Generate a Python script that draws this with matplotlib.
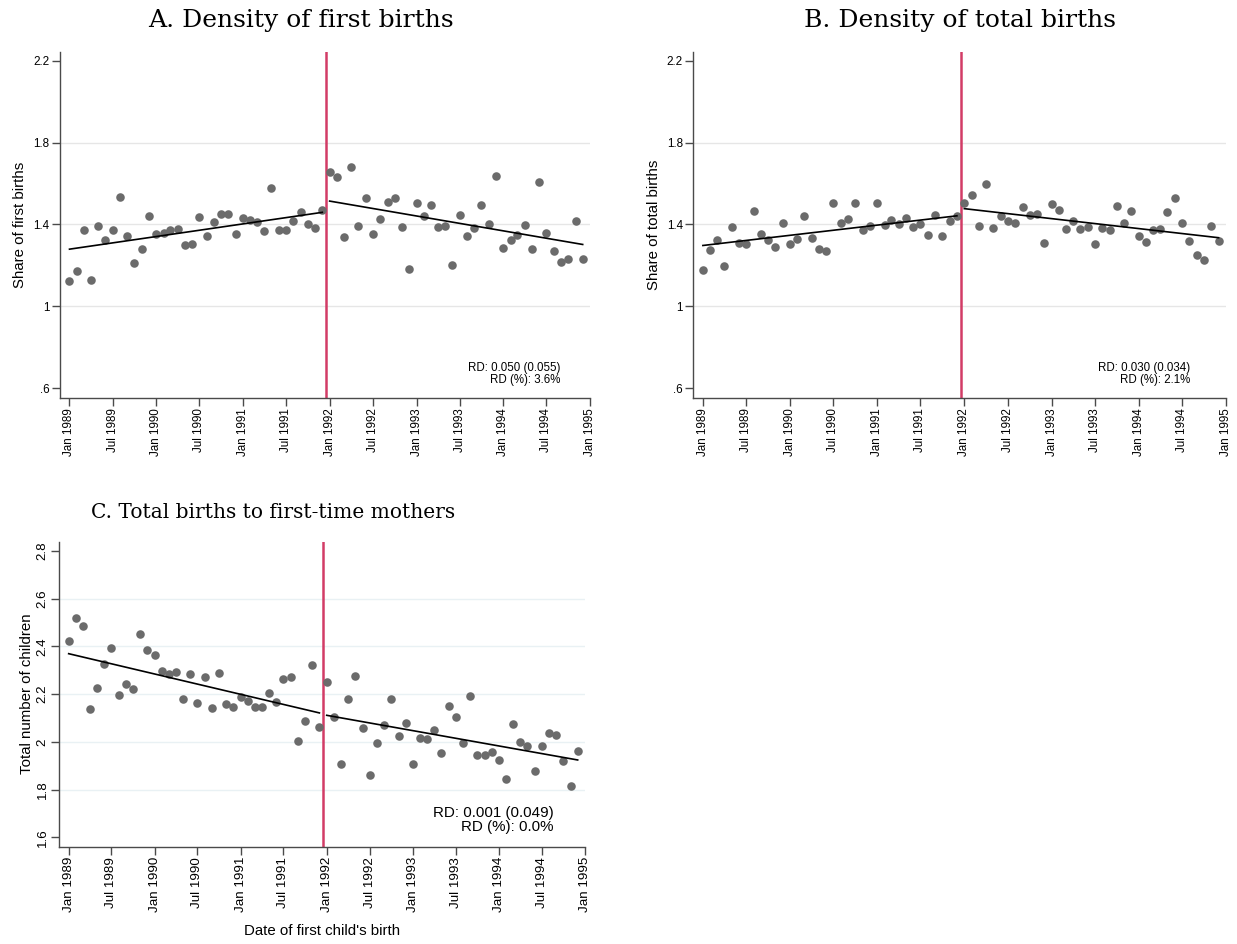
import numpy as np
import pandas as pd
import matplotlib
matplotlib.use("Agg")
import matplotlib.pyplot as plt

plt.rcParams["font.family"] = ["Liberation Sans", "DejaVu Sans"]

# monthly bins, Jan 1989 - Dec 1994
dates = pd.date_range("1989-01-01", periods=72, freq="MS")
cutoff = pd.Timestamp("1991-12-16")
tick_dates = pd.date_range("1989-01-01", "1995-01-01", freq="6MS")
tick_labels = [d.strftime("%b %Y") for d in tick_dates]

share_first = [
    1.124, 1.171, 1.374, 1.129, 1.393, 1.322, 1.371, 1.536, 1.344, 1.212,
    1.282, 1.439, 1.351, 1.358, 1.372, 1.380, 1.300, 1.302, 1.438, 1.341,
    1.411, 1.449, 1.449, 1.353, 1.431, 1.424, 1.413, 1.367, 1.580, 1.374,
    1.371, 1.415, 1.459, 1.403, 1.382, 1.472,
    1.656, 1.630, 1.340, 1.681, 1.393, 1.527, 1.351, 1.426, 1.511, 1.531,
    1.389, 1.184, 1.503, 1.442, 1.493, 1.387, 1.393, 1.201, 1.444, 1.341,
    1.384, 1.496, 1.402, 1.638, 1.284, 1.323, 1.346, 1.395, 1.281, 1.607,
    1.358, 1.268, 1.217, 1.232, 1.416, 1.232,
]
share_total = [
    1.178, 1.273, 1.322, 1.198, 1.389, 1.310, 1.302, 1.467, 1.351, 1.323,
    1.292, 1.408, 1.302, 1.328, 1.439, 1.335, 1.282, 1.268, 1.506, 1.405,
    1.428, 1.504, 1.372, 1.392, 1.504, 1.398, 1.421, 1.402, 1.433, 1.387,
    1.400, 1.349, 1.444, 1.341, 1.418, 1.442,
    1.504, 1.544, 1.393, 1.598, 1.384, 1.441, 1.416, 1.405, 1.487, 1.446,
    1.452, 1.309, 1.498, 1.469, 1.380, 1.415, 1.380, 1.389, 1.302, 1.382,
    1.374, 1.488, 1.407, 1.465, 1.341, 1.313, 1.371, 1.380, 1.460, 1.531,
    1.405, 1.318, 1.250, 1.227, 1.393, 1.318,
]
n_children = [
    2.424, 2.518, 2.484, 2.139, 2.224, 2.324, 2.394, 2.196, 2.243, 2.220,
    2.451, 2.385, 2.362, 2.298, 2.286, 2.293, 2.180, 2.284, 2.161, 2.272,
    2.140, 2.288, 2.157, 2.147, 2.186, 2.171, 2.144, 2.147, 2.206, 2.168,
    2.264, 2.271, 2.005, 2.086, 2.323, 2.063,
    2.250, 2.102, 1.906, 2.179, 2.274, 2.059, 1.863, 1.997, 2.069, 2.178,
    2.026, 2.079, 1.909, 2.016, 2.012, 2.051, 1.955, 2.148, 2.102, 1.995,
    2.193, 1.945, 1.946, 1.959, 1.924, 1.846, 2.075, 2.001, 1.984, 1.877,
    1.984, 2.037, 2.027, 1.920, 1.817, 1.963,
]

# linear fits on each side of the cutoff: (value at first bin, value at last bin)
fit_first = [(1.279, 1.459), (1.514, 1.302)]
fit_total = [(1.297, 1.442), (1.477, 1.335)]
fit_children = [(2.369, 2.121), (2.111, 1.924)]

rd_first = ("RD: 0.050 (0.055)", "RD (%): 3.6%")
rd_total = ("RD: 0.030 (0.034)", "RD (%): 2.1%")
rd_children = ("RD: 0.001 (0.049)", "RD (%): 0.0%")

DOT = "#6b6b6b"
RED = "#d23c66"
AXC = "#4a4a4a"


def rd_panel(ax, y, fits, rd, ylim, yticks, ylabels, grid_col, tick_fs, rd_fs, lab_fs,
             ylabel, rd_pos, lab_pad, rot_y=False):
    ax.scatter(dates, y, s=38, color=DOT, linewidths=0, zorder=3)
    left, right = dates[:36], dates[36:]
    ax.plot([left[0], left[-1]], fits[0], color="black", lw=1.2, zorder=4)
    ax.plot([right[0], right[-1]], fits[1], color="black", lw=1.2, zorder=4)
    ax.axvline(cutoff, color=RED, lw=1.8, zorder=2)
    for t in yticks[1:-1]:
        ax.axhline(t, color=grid_col, lw=1.0, zorder=1)
    ax.set_xlim(pd.Timestamp("1988-11-22"), pd.Timestamp("1995-01-01"))
    ax.set_ylim(*ylim)
    ax.set_xticks(tick_dates)
    ax.set_xticklabels(tick_labels, rotation=90, fontsize=tick_fs)
    ax.set_yticks(yticks)
    if rot_y:
        ax.set_yticklabels(ylabels, rotation=90, va="center", fontsize=tick_fs)
    else:
        ax.set_yticklabels(ylabels, fontsize=tick_fs)
    ax.set_ylabel(ylabel, fontsize=lab_fs, labelpad=lab_pad)
    for s in ("top", "right"):
        ax.spines[s].set_visible(False)
    for s in ("left", "bottom"):
        ax.spines[s].set_color(AXC)
        ax.spines[s].set_linewidth(1.0)
    ax.tick_params(length=5.5, width=1.0, color=AXC, pad=2)
    ax.text(rd_pos[0], rd_pos[1], rd[0] + "\n" + rd[1], transform=ax.transAxes,
            ha="right", va="center", multialignment="right",
            fontsize=rd_fs, linespacing=1.0)


fig = plt.figure(figsize=(12.37, 9.44), dpi=100)
ax_a = fig.add_axes([0.0485, 0.5787, 0.4285, 0.3665])
ax_b = fig.add_axes([0.5605, 0.5787, 0.4306, 0.3665])
ax_c = fig.add_axes([0.0479, 0.1031, 0.4250, 0.3231])

share_ticks = [0.6, 1.0, 1.4, 1.8, 2.2]
share_lbls = [".6", "1", "1.4", "1.8", "2.2"]
rd_panel(ax_a, share_first, fit_first, rd_first, (0.553, 2.244), share_ticks, share_lbls,
         "#e6e6e6", 8.4, 8.3, 10.8, "Share of first births", (0.944, 0.068), 4.5)
rd_panel(ax_b, share_total, fit_total, rd_total, (0.553, 2.244), share_ticks, share_lbls,
         "#e6e6e6", 8.4, 8.3, 10.8, "Share of total births", (0.932, 0.068), 4.5)
child_ticks = [1.6, 1.8, 2.0, 2.2, 2.4, 2.6, 2.8]
child_lbls = ["1.6", "1.8", "2", "2.2", "2.4", "2.6", "2.8"]
rd_panel(ax_c, n_children, fit_children, rd_children, (1.561, 2.838), child_ticks, child_lbls,
         "#e9f1f4", 9.6, 10.9, 10.8, "Total number of children", (0.94, 0.088), 2.0,
         rot_y=True)
ax_c.set_xlabel("Date of first child's birth", fontsize=10.8, labelpad=8)

serif = ["DejaVu Serif"]
fig.text(301 / 1237, 1 - 21 / 944, "A. Density of first births", family=serif,
         fontsize=18, ha="center", va="center")
fig.text(960 / 1237, 1 - 21 / 944, "B. Density of total births", family=serif,
         fontsize=18, ha="center", va="center")
fig.text(273 / 1237, 1 - 513 / 944, "C. Total births to first-time mothers", family=serif,
         fontsize=14.5, ha="center", va="center")

fig.savefig("out.png", dpi=100, facecolor="white")
